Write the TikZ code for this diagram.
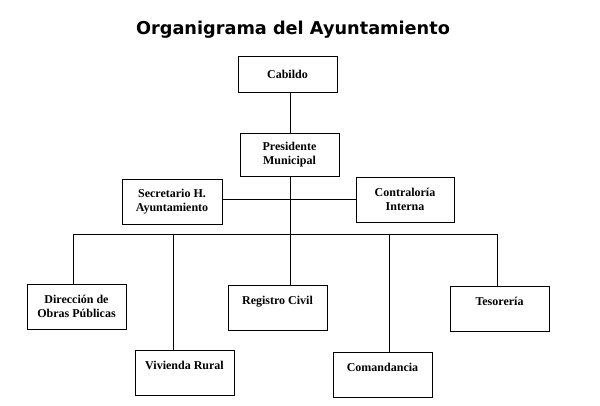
\documentclass[tikz,border=0pt]{standalone}
\usepackage{fontspec}
\setmainfont{Liberation Serif}
\newfontfamily\titlefont{DejaVu Sans}
\usetikzlibrary{positioning}
\tikzset{
    x=1pt, y=-1pt, % one unit is one pixel of the chart, y runs downwards
    every path/.style={line width=0.8pt}, % thin black connectors
    every node/.style={font=\bfseries\fontsize{12}{14}\selectfont}, % box texts
}
\begin{document}
\begin{tikzpicture}[
                        unitBox/.style={draw, line width=0.8pt, align=center, minimum width=99pt, minimum height=45pt, inner sep=2pt},
                        titleStyle/.style={font=\titlefont\bfseries\fontsize{17.7}{21}\selectfont},
                    ]
                    \useasboundingbox (0,0) rectangle (600,405);
                    \node[titleStyle] (title) at (293,30) {Organigrama del Ayuntamiento};
                    \node[unitBox, minimum height=36pt] (cab) at (287.5,74) {Cabildo};
                    \node[unitBox, minimum height=43pt] (pres) at (289.5,154.5) {Presidente\\Municipal};
                    \node[unitBox, minimum width=100pt] (sec) at (172,201.5) {Secretario H.\\Ayuntamiento};
                    \node[unitBox, minimum width=98pt] (con) at (405,199.5) {Contraloría\\Interna};
                    \node[unitBox] (dir) at (76.5,306.5) {Dirección de\\Obras Públicas};
                    \node[unitBox] (viv) at (184.5,372.5) {Vivienda Rural\\~};
                    \node[unitBox] (reg) at (277.5,307.5) {Registro Civil\\~};
                    \node[unitBox] (com) at (382.5,374.5) {Comandancia\\~};
                    \node[unitBox] (tes) at (499.5,308.5) {Tesorería\\~};
                    % the long bar the five units hang from
                    \coordinate (b1) at (73,234);
                    \coordinate (b2) at (173,234);
                    \coordinate (b3) at (290,234);
                    \coordinate (b4) at (389,234);
                    \coordinate (b5) at (497,234);
                    \draw (b1) -- (b5);

                    \draw (b3 |- cab.south) -- (b3 |- pres.north);
                    \draw (b3 |- pres.south) -- (b3);
                    \draw (sec.east |- con.west) -- (con.west);

                    \draw (b1) -- (b1 |- dir.north);
                    \draw (b2) -- (b2 |- viv.north);
                    \draw (b3) -- (b3 |- reg.north);
                    \draw (b4) -- (b4 |- com.north);
                    \draw (b5) -- (b5 |- tes.north);
                \end{tikzpicture}
\end{document}
